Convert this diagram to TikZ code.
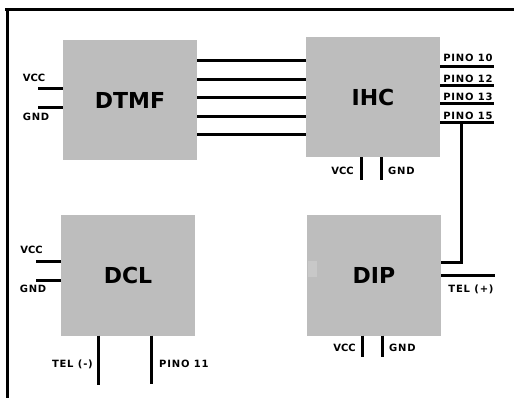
\documentclass[tikz,border=0pt]{standalone}
\usepackage{fontspec}
\setmainfont{DejaVu Sans}
\usepackage{xcolor}
\definecolor{chipgray}{HTML}{BDBDBD}
\definecolor{patchgray}{HTML}{C8C8C8}
\begin{document}
\begin{tikzpicture}[
    x=1pt, y=-1pt,
    chip/.style={fill=chipgray, minimum width=134pt, minimum height=120pt,
                 inner sep=0pt, font=\fontsize{22}{24}\selectfont\bfseries},
    wire/.style={line width=3pt, black},
    lab/.style={font=\fontsize{10}{12}\selectfont\bfseries\addfontfeature{LetterSpace=8},
                inner sep=0pt},
    vcclab/.style={font=\fontsize{10}{12}\selectfont\bfseries, inner sep=0pt}
  ]
    \useasboundingbox (0, 0) rectangle (514, 398);
    % frame
    \coordinate (F0) at (5, 10);
    \coordinate (F1) at (514, 10);
    \coordinate (F2) at (7, 398);
    \draw[line width=3pt] (F1) -- (F0);
    \draw[line width=3pt] (7, 8.5) -- (F2);

    \node[chip] (DTMF) at (130, 100) {DTMF};
    \node[chip] (IHC) at (373, 97) {IHC};
    \node[chip] (DCL) at (128, 275.5) {DCL};
    \node[chip] (DIP) at (374, 275.5) {DIP};
    \node[fill=patchgray, minimum width=9pt, minimum height=16pt, inner sep=0pt]
      (DIPpatch) at (312.5, 269) {};

    % DTMF to IHC
    \foreach \y in {61, 80, 98, 117, 135}
      \draw[wire] (DTMF.east |- 0, \y) -- (IHC.west |- 0, \y);

    % DTMF supply
    \coordinate (DTMFvcc) at (38, 89);
    \coordinate (DTMFgnd) at (38, 107.5);
    \draw[wire] (DTMFvcc) -- (DTMF.west |- DTMFvcc);
    \draw[wire] (DTMFgnd) -- (DTMF.west |- DTMFgnd);
    \node[vcclab] (LV1) at (34, 78) {VCC};
    \node[lab] (LG1) at (36, 116.5) {GND};

    % IHC pins
    \foreach \y/\t/\p in {66.5/10/57.5, 85.5/12/78.5, 104/13/97, 123/15/115.5} {
      \coordinate (P\t) at (494, \y);
      \draw[wire] (IHC.east |- P\t) -- (P\t);
      \node[lab] (LP\t) at (468, \p) {PINO \t};
    }

    % IHC supply
    \coordinate (IHCvcc) at (361, 180);
    \coordinate (IHCgnd) at (381.5, 180);
    \draw[wire] (IHC.south -| IHCvcc) -- (IHCvcc);
    \draw[wire] (IHC.south -| IHCgnd) -- (IHCgnd);
    \node[vcclab, anchor=east] (LV2) at (354, 171) {VCC};
    \node[lab, anchor=west] (LG2) at (388, 171) {GND};

    % DCL supply
    \coordinate (DCLvcc) at (36, 261);
    \coordinate (DCLgnd) at (36, 280);
    \draw[wire] (DCLvcc) -- (DCL.west |- DCLvcc);
    \draw[wire] (DCLgnd) -- (DCL.west |- DCLgnd);
    \node[vcclab] (LV3) at (31.5, 250) {VCC};
    \node[lab] (LG3) at (33, 289) {GND};

    % DCL lines
    \coordinate (TELm) at (98, 385);
    \coordinate (P11) at (151, 384);
    \draw[wire] (DCL.south -| TELm) -- (TELm);
    \draw[wire] (DCL.south -| P11) -- (P11);
    \node[lab, anchor=east] (LTm) at (93, 364) {TEL (-)};
    \node[lab, anchor=west] (LP11) at (159, 364) {PINO 11};

    % DIP lines
    \coordinate (J15) at (461, 123);
    \coordinate (J15b) at (461, 262);
    \coordinate (TELp) at (495, 275.5);
    \draw[wire] (J15) -- (J15b) -- (DIP.east |- J15b);
    \draw[wire] (DIP.east |- TELp) -- (TELp);
    \node[lab] (LTp) at (471, 289) {TEL (+)};

    % DIP supply
    \coordinate (DIPvcc) at (362.5, 357);
    \coordinate (DIPgnd) at (382.5, 357);
    \draw[wire] (DIP.south -| DIPvcc) -- (DIPvcc);
    \draw[wire] (DIP.south -| DIPgnd) -- (DIPgnd);
    \node[vcclab, anchor=east] (LV4) at (356, 348) {VCC};
    \node[lab, anchor=west] (LG4) at (389, 348) {GND};
  \end{tikzpicture}
\end{document}
